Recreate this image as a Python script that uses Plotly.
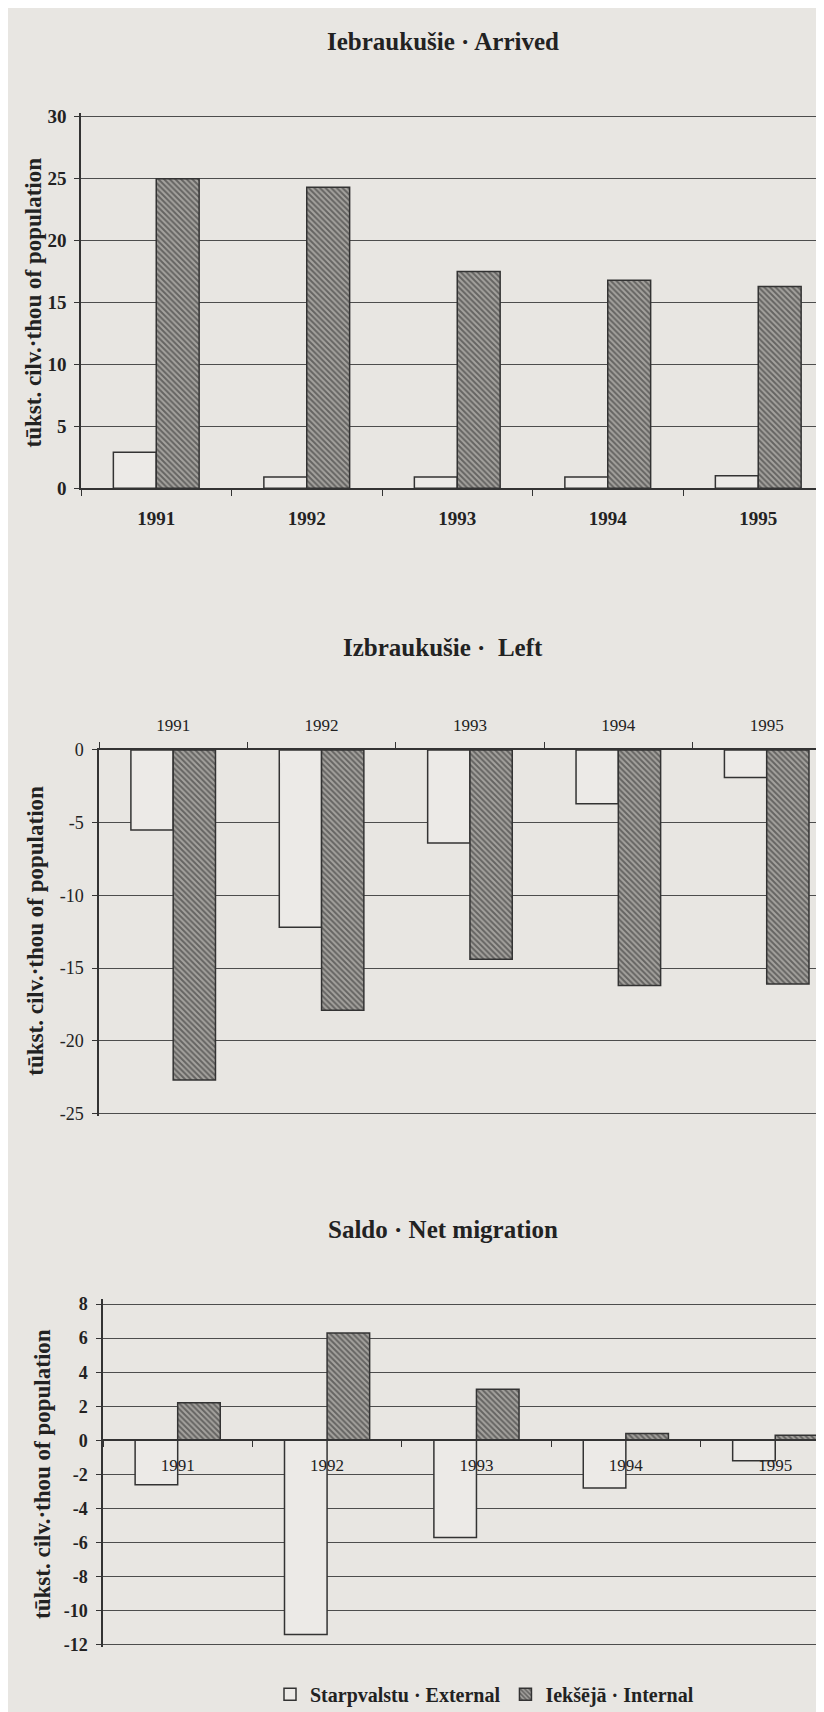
import plotly.graph_objects as go

# ---- data (thousand persons) ----
years = ["1991", "1992", "1993", "1994", "1995"]

arrived_external = [2.9, 0.9, 0.9, 0.9, 1.0]
arrived_internal = [25.0, 24.3, 17.5, 16.8, 16.3]

left_external = [-5.5, -12.2, -6.4, -3.7, -1.9]
left_internal = [-22.7, -17.9, -14.4, -16.2, -16.1]

net_external = [-2.6, -11.4, -5.7, -2.8, -1.2]
net_internal = [2.2, 6.3, 3.0, 0.4, 0.3]

# y tick values / labels (hyphen-minus as printed)
arrived_ticks = [0, 5, 10, 15, 20, 25, 30]
left_ticks = [0, -5, -10, -15, -20, -25]
net_ticks = [8, 6, 4, 2, 0, -2, -4, -6, -8, -10, -12]

titles = ["Iebraukušie · Arrived", "Izbraukušie ·  Left", "Saldo · Net migration"]
ytitle = "tūkst. cilv.·thou of population"
name_external = "Starpvalstu · External"
name_internal = "Iekšējā · Internal"

# ---- styling ----
W, H = 824, 1712
BG = "#e8e6e2"
INK = "#333333"
GRID = "#4d4d4d"
SERIF = "Liberation Serif, Times New Roman, serif"
EXT_FILL = "#eceae7"
INT_FILL = "#a4a29e"


def py(px):
    return 1 - px / H


def pxx(px):
    return px / W


def lbl(vals):
    return [str(v) for v in vals]


fig = go.Figure()

panels = [
    (arrived_external, arrived_internal, "x", "y", True),
    (left_external, left_internal, "x2", "y2", False),
    (net_external, net_internal, "x3", "y3", False),
]
for ext, intl, xa, ya, show in panels:
    fig.add_trace(go.Bar(
        x=years, y=ext, name=name_external, xaxis=xa, yaxis=ya,
        marker=dict(color=EXT_FILL, line=dict(color=INK, width=1.5)),
        showlegend=show, legendgroup="ext"))
    fig.add_trace(go.Bar(
        x=years, y=intl, name=name_internal, xaxis=xa, yaxis=ya,
        marker=dict(color=INT_FILL, line=dict(color=INK, width=1.5),
                    pattern=dict(shape="\\", fgcolor="#262626", bgcolor=INT_FILL,
                                 size=4, solidity=0.5)),
        showlegend=show, legendgroup="int"))

# plot-area geometry in pixels (from reference); a little head-room above the top gridline
r1 = [0, 30.3]
r2 = [-25.2, 0]
r3 = [-12.15, 8.3]
d1 = [py(476), py(100 - 0.3 * 12.5)]
d2 = [py(1109 + 0.2 * 14.7), py(741)]
d3 = [py(1647 + 0.15 * 17.2), py(1302 - 0.3 * 17.2)]

yaxis_common = dict(showline=True, linecolor=INK, linewidth=1.5, ticks="outside",
                    ticklen=5, tickcolor=INK, showgrid=True, gridcolor=GRID,
                    gridwidth=1, zeroline=False, tickmode="array")
xaxis_common = dict(type="category", showline=True, linecolor=INK, linewidth=1.5,
                    tickson="boundaries", ticks="outside", ticklen=6, tickcolor=INK,
                    showgrid=False, zeroline=False)

pos3 = d3[0] + (0 - r3[0]) / (r3[1] - r3[0]) * (d3[1] - d3[0])

fig.update_layout(
    width=W, height=H,
    margin=dict(l=0, r=0, t=0, b=0),
    paper_bgcolor=BG, plot_bgcolor=BG,
    barmode="group", bargap=0.43, bargroupgap=0,
    font=dict(family=SERIF, color="#222"),
    xaxis=dict(xaxis_common, domain=[pxx(73), 1], range=[-0.5, 4.49], anchor="y",
               tickfont=dict(family=SERIF, size=19, weight="bold", color="#222"),
               ticklabelstandoff=12),
    yaxis=dict(yaxis_common, domain=d1, range=r1, anchor="x",
               tickvals=arrived_ticks, ticktext=lbl(arrived_ticks),
               tickfont=dict(family=SERIF, size=19, weight="bold", color="#222"),
               ticklabelstandoff=4),
    xaxis2=dict(xaxis_common, domain=[pxx(91), 1], range=[-0.5, 4.44], anchor="y2",
                side="top",
                tickfont=dict(family=SERIF, size=17, color="#222"),
                ticklabelstandoff=10),
    yaxis2=dict(yaxis_common, domain=d2, range=r2, anchor="x2",
                tickvals=left_ticks, ticktext=lbl(left_ticks),
                tickfont=dict(family=SERIF, size=18, color="#222"),
                ticklabelstandoff=5),
    xaxis3=dict(xaxis_common, domain=[pxx(95), 1], range=[-0.5, 4.38], anchor="free",
                position=pos3,
                tickfont=dict(family=SERIF, size=17, color="#222"),
                ticklabelstandoff=10),
    yaxis3=dict(yaxis_common, domain=d3, range=r3, anchor="x3",
                tickvals=net_ticks, ticktext=lbl(net_ticks),
                tickfont=dict(family=SERIF, size=18, weight="bold", color="#222"),
                ticklabelstandoff=5),
    legend=dict(orientation="h", x=pxx(262), y=py(1697), xanchor="left", yanchor="middle",
                font=dict(family=SERIF, size=20, weight="bold", color="#222"),
                bgcolor="rgba(0,0,0,0)", itemwidth=30, traceorder="normal"),
)

title_pos = [24, 637, 1227]
for t, yp in zip(titles, title_pos):
    fig.add_annotation(text=t, xref="paper", yref="paper", x=pxx(435), y=py(yp),
                       xanchor="center", yanchor="middle", showarrow=False,
                       font=dict(family=SERIF, size=25, weight="bold", color="#222"))

ytitle_pos = [(25, 288), (28, 924), (35, 1474)]
for xp, yp in ytitle_pos:
    fig.add_annotation(text=ytitle, xref="paper", yref="paper", x=pxx(xp), y=py(yp),
                       xanchor="center", yanchor="middle", showarrow=False, textangle=-90,
                       font=dict(family=SERIF, size=23, weight="bold", color="#222"))

fig.write_html("out.html")
